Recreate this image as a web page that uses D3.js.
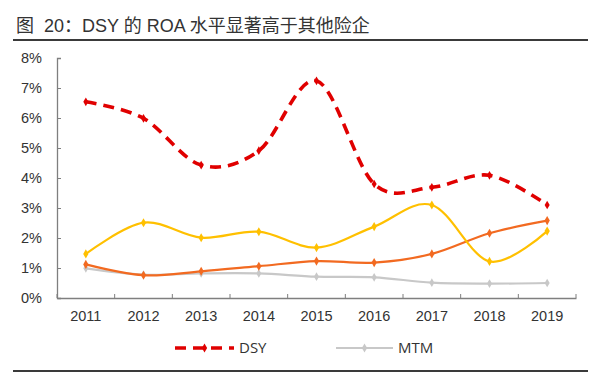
<!DOCTYPE html>
<html>
<head>
<meta charset="utf-8">
<script src="https://cdn.jsdelivr.net/npm/d3@7"></script>
<style>
  body { margin: 0; background: #fff; }
  svg { display: block; font-family: "Liberation Sans", Arial, "Noto Sans CJK SC", sans-serif; }
</style>
</head>
<body>
<div id="chart"></div>
<script>
// Data (ROA, %)
const years = ["2011", "2012", "2013", "2014", "2015", "2016", "2017", "2018", "2019"];
const yTicks = [0, 1, 2, 3, 4, 5, 6, 7, 8];
const dsy = [6.54, 5.99, 4.43, 4.91, 7.24, 3.80, 3.69, 4.09, 3.10];
const otherA = [1.47, 2.51, 2.01, 2.21, 1.68, 2.38, 3.10, 1.22, 2.23];
const otherB = [1.12, 0.76, 0.89, 1.06, 1.23, 1.18, 1.47, 2.16, 2.58];
const mtm = [0.99, 0.78, 0.82, 0.82, 0.71, 0.69, 0.51, 0.48, 0.50];
const legendNames = ["DSY", "MTM"];

function drawChart() {
    const W = 600, H = 376;
    const plot = {left: 57, right: 576, top: 58, bottom: 298};

    const svg = d3.select("#chart")
        .append("svg")
        .attr("width", W)
        .attr("height", H);

    // Title and rules
    svg.append("text")
        .attr("x", 16)
        .attr("y", 32)
        .attr("fill", "#333")
        .style("font-size", "18px")
        .style("white-space", "pre")
        .text("图  20：DSY 的 ROA 水平显著高于其他险企");

    svg.append("line")
        .attr("x1", 13).attr("x2", 588)
        .attr("y1", 40).attr("y2", 40)
        .attr("stroke", "#3a3a3a").attr("stroke-width", 2);

    svg.append("line")
        .attr("x1", 13).attr("x2", 588)
        .attr("y1", 371).attr("y2", 371)
        .attr("stroke", "#3a3a3a").attr("stroke-width", 2);

    // Scales
    const x = d3.scaleBand()
        .domain(years)
        .range([plot.left, plot.right]);

    const y = d3.scaleLinear()
        .domain([0, 8])
        .range([plot.bottom, plot.top]);

    const cx = d => x(d) + x.bandwidth() / 2;

    // Y axis
    const yAxis = svg.append("g")
        .attr("transform", `translate(${plot.left},0)`)
        .call(d3.axisLeft(y).tickValues(yTicks).tickSize(-4).tickPadding(15)
            .tickFormat(d => d + "%"));
    yAxis.select(".domain").attr("stroke", "#7f7f7f").attr("stroke-width", 1.3);
    yAxis.selectAll(".tick line").attr("stroke", "#7f7f7f");
    yAxis.selectAll(".tick text")
        .attr("fill", "#333")
        .style("font-size", "14.5px");

    // X axis with tick marks at category boundaries
    const xAxis = svg.append("g")
        .attr("transform", `translate(0,${plot.bottom})`)
        .call(d3.axisBottom(x).tickSize(0).tickPadding(13));
    xAxis.select(".domain").attr("stroke", "#7f7f7f").attr("stroke-width", 1.3);
    xAxis.selectAll(".tick text")
        .attr("fill", "#333")
        .style("font-size", "14.5px");

    const bounds = years.map(d => x(d)).concat([plot.right]);
    xAxis.selectAll(".bound")
        .data(bounds)
        .enter()
        .append("line")
        .attr("class", "bound")
        .attr("x1", d => d).attr("x2", d => d)
        .attr("y1", 0).attr("y2", -4)
        .attr("stroke", "#7f7f7f");

    // Lines
    const series = [
        {values: mtm, color: "#c8c8c8", width: 2.2, dash: null, marker: 22},
        {values: otherB, color: "#f26a21", width: 2.2, dash: null, marker: 24},
        {values: otherA, color: "#ffc000", width: 2.2, dash: null, marker: 24},
        {values: dsy, color: "#e00000", width: 3.6, dash: "11,7", marker: 22}
    ];

    const line = d3.line()
        .x((d, i) => cx(years[i]))
        .y(d => y(d))
        .curve(d3.curveCardinal.tension(0));

    const diamond = d3.symbol().type(d3.symbolDiamond);

    series.forEach(s => {
        svg.append("path")
            .datum(s.values)
            .attr("fill", "none")
            .attr("stroke", s.color)
            .attr("stroke-width", s.width)
            .attr("stroke-dasharray", s.dash)
            .attr("d", line);

        svg.selectAll(null)
            .data(s.values)
            .enter()
            .append("path")
            .attr("transform", (d, i) => `translate(${cx(years[i])},${y(d)})`)
            .attr("d", diamond.size(s.marker))
            .attr("fill", s.color);
    });

    // Legend (only DSY and MTM in the reference)
    const legend = svg.append("g").style("font-family", "\"Open Sans\", \"Noto Sans\", sans-serif");
    const legendItems = [
        {name: legendNames[0], color: "#e00000", width: 3.6, dash: "11,7", x1: 175, x2: 234},
        {name: legendNames[1], color: "#c8c8c8", width: 2.2, dash: null, x1: 336, x2: 393}
    ];
    legendItems.forEach(it => {
        legend.append("line")
            .attr("x1", it.x1).attr("x2", it.x2)
            .attr("y1", 348).attr("y2", 348)
            .attr("stroke", it.color)
            .attr("stroke-width", it.width)
            .attr("stroke-dasharray", it.dash);
        legend.append("path")
            .attr("transform", `translate(${(it.x1 + it.x2) / 2},348)`)
            .attr("d", diamond.size(24))
            .attr("fill", it.color);
        legend.append("text")
            .attr("x", it.x2 + 5)
            .attr("y", 353)
            .attr("fill", "#333")
            .style("font-size", "15px")
            .text(it.name);
    });
}

window.addEventListener('DOMContentLoaded', drawChart);
</script>
</body>
</html>
